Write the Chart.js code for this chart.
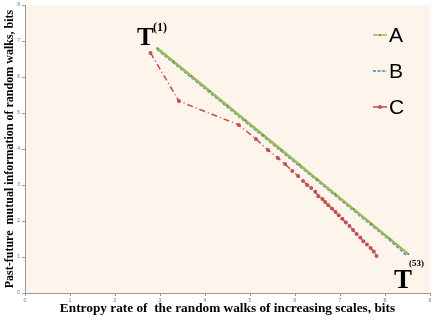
<!DOCTYPE html>
<html>
<head>
  <meta charset="UTF-8">
  <title>Entropy rate vs past-future mutual information</title>
  <script src="https://cdn.jsdelivr.net/npm/chart.js"></script>
  <style>
    html, body { margin: 0; padding: 0; background: #fff; }
    #wrap { width: 436px; height: 327px; }
  </style>
</head>
<body>
  <div id="wrap"><canvas id="chart" width="436" height="327"></canvas></div>

  <script>
    // data
    const xA = [2.94, 3.3, 3.7, 4.1, 4.5, 4.9, 5.3, 5.7, 6.1, 6.5, 6.9, 7.3, 7.7, 8.1, 8.52];
    const yA = [6.80, 6.43, 6.02, 5.61, 5.20, 4.79, 4.38, 3.97, 3.56, 3.15, 2.74, 2.33, 1.92, 1.51, 1.08];

    const xB = [2.93, 3.3, 3.7, 4.1, 4.5, 4.9, 5.3, 5.7, 6.1, 6.5, 6.9, 7.3, 7.7, 8.1, 8.48];
    const yB = [6.77, 6.39, 5.98, 5.57, 5.16, 4.75, 4.34, 3.93, 3.52, 3.11, 2.70, 2.29, 1.88, 1.47, 1.04];

    const xC = [2.79, 3.42, 4.75, 5.13, 5.40, 5.62, 5.78, 5.94, 6.07, 6.18, 6.27, 6.36, 6.45, 6.52, 6.61, 6.67, 6.74,
                6.82, 6.90, 6.97, 7.05, 7.13, 7.21, 7.29, 7.37, 7.45, 7.52, 7.60, 7.68, 7.75, 7.81];
    const yC = [6.67, 5.33, 4.67, 4.28, 3.97, 3.75, 3.58, 3.39, 3.25, 3.11, 3.00, 2.92, 2.81, 2.69, 2.61, 2.53, 2.44,
                2.35, 2.25, 2.16, 2.06, 1.96, 1.86, 1.75, 1.64, 1.54, 1.44, 1.35, 1.25, 1.15, 1.03];

    const xTicks = [0, 1, 2, 3, 4, 5, 6, 7, 8, 9];
    const yTicks = [0, 1, 2, 3, 4, 5, 6, 7, 8];

    const toPts = (xs, ys) => xs.map((x, i) => ({ x: x, y: ys[i] }));

    // peach plot background
    const plotBg = {
      id: 'plotBg',
      beforeDraw(chart) {
        const { ctx, chartArea: a } = chart;
        ctx.save();
        ctx.fillStyle = '#fdf4eb';
        ctx.fillRect(a.left, a.top, a.right - a.left, a.bottom - a.top);
        ctx.restore();
      }
    };

    // legend inside the plot, big letters, plus the T labels
    const extras = {
      id: 'extras',
      afterDatasetsDraw(chart) {
        const ctx = chart.ctx;
        ctx.save();
        const items = [['A', 35], ['B', 71], ['C', 107]];
        items.forEach(([lab, yy], i) => {
          const ds = chart.data.datasets[i];
          ctx.strokeStyle = ds.borderColor;
          ctx.lineWidth = 1.5;
          ctx.setLineDash(i === 1 ? [3, 1.5] : []);
          ctx.beginPath();
          ctx.moveTo(373, yy);
          ctx.lineTo(387, yy);
          ctx.stroke();
          ctx.setLineDash([]);
          if (i !== 1) {
            ctx.fillStyle = ds.pointBackgroundColor;
            ctx.beginPath();
            ctx.arc(380, yy, i === 2 ? 2 : 1, 0, Math.PI * 2);
            ctx.fill();
          }
          ctx.fillStyle = '#000';
          ctx.font = '21px "Liberation Sans", Arial, sans-serif';
          ctx.textBaseline = 'middle';
          ctx.textAlign = 'left';
          ctx.fillText(lab, 389, yy + 1);
        });

        ctx.fillStyle = '#000';
        ctx.textBaseline = 'alphabetic';
        ctx.font = 'bold 25px "Liberation Serif", serif';
        ctx.fillText('T', 137, 45);
        ctx.font = 'bold 12px "Liberation Serif", serif';
        ctx.fillText('(1)', 153, 31);

        ctx.font = 'bold 27px "Liberation Serif", serif';
        ctx.fillText('T', 394, 288);
        ctx.font = 'bold 9px "Liberation Serif", serif';
        ctx.fillText('(53)', 409, 266);
        ctx.restore();
      }
    };

    new Chart(document.getElementById('chart'), {
      type: 'scatter',
      data: {
        datasets: [
          { label: 'A', data: toPts(xA, yA), showLine: true, borderColor: '#9bbb59', borderWidth: 2.5,
            pointRadius: 1, pointBackgroundColor: '#6f8a3c', pointBorderWidth: 0 },
          { label: 'B', data: toPts(xB, yB), showLine: true, borderColor: '#4f81bd', borderWidth: 1.5,
            borderDash: [3, 2], pointRadius: 0, pointBackgroundColor: '#4f81bd' },
          { label: 'C', data: toPts(xC, yC), showLine: true, borderColor: '#c0504d', borderWidth: 1.5,
            borderDash: [6, 3, 1, 3], pointRadius: 2, pointBackgroundColor: '#c0504d', pointBorderWidth: 0 }
        ]
      },
      options: {
        responsive: false,
        animation: false,
        layout: { padding: { left: 0, right: 6, top: 5, bottom: 0 } },
        plugins: {
          legend: { display: false },
          tooltip: { enabled: false }
        },
        scales: {
          x: {
            type: 'linear', min: 0, max: 9,
            afterBuildTicks: s => { s.ticks = xTicks.map(v => ({ value: v })); },
            afterFit: s => { s.height = 34; },
            grid: { display: true, drawOnChartArea: false, tickLength: 3, color: '#999' },
            border: { color: '#999' },
            ticks: { font: { size: 5 }, color: '#777', padding: 2 },
            title: {
              display: true,
              text: 'Entropy rate of  the random walks of increasing scales, bits',
              font: { family: '"Liberation Serif", serif', size: 13.3, weight: 'bold' },
              color: '#000',
              padding: { top: 0, bottom: 10 }
            }
          },
          y: {
            type: 'linear', min: 0, max: 8,
            afterBuildTicks: s => { s.ticks = yTicks.map(v => ({ value: v })); },
            afterFit: s => { s.width = 25; },
            grid: { display: true, drawOnChartArea: false, tickLength: 3, color: '#999' },
            border: { color: '#999' },
            ticks: { font: { size: 5 }, color: '#777', padding: 2 },
            title: {
              display: true,
              text: 'Past-future  mutual information of random walks, bits',
              font: { family: '"Liberation Serif", serif', size: 12, weight: 'bold' },
              color: '#000',
              padding: { top: 3, bottom: 0 }
            }
          }
        }
      },
      plugins: [plotBg, extras]
    });
  </script>
</body>
</html>
